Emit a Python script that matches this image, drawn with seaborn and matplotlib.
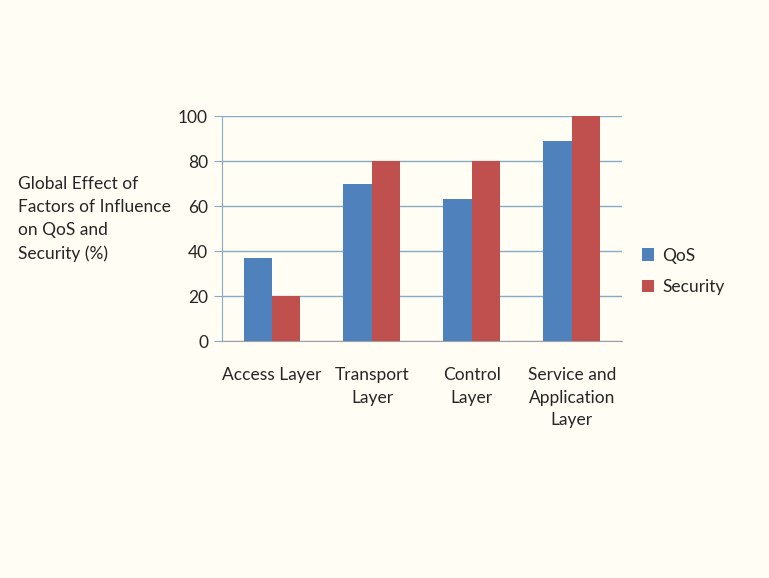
import seaborn as sns
import pandas as pd
import matplotlib.pyplot as plt

layers = ["Access Layer", "Transport\nLayer", "Control\nLayer", "Service and\nApplication\nLayer"]
qos = [37, 70, 63, 89]
security = [20, 80, 80, 100]

df = pd.DataFrame({
    "Layer": layers * 2,
    "Value": qos + security,
    "Series": ["QoS"] * 4 + ["Security"] * 4,
})

sns.set_style("white")
plt.rcParams['font.family'] = ['Lato', 'DejaVu Sans']

bg = "#fffdf4"
fig = plt.figure(figsize=(7.69, 5.78), dpi=100, facecolor=bg)
ax = fig.add_axes([0.2887, 0.41, 0.52, 0.389])
ax.set_facecolor(bg)

sns.barplot(data=df, x="Layer", y="Value", hue="Series",
            palette=["#4f81bd", "#c0504d"], width=0.57, gap=0,
            saturation=1, linewidth=0, ax=ax, zorder=3)

ax.set_ylim(0, 100)
ax.set_xlim(-0.5, 3.5)
ax.set_yticks([0, 20, 40, 60, 80, 100])
ax.yaxis.grid(True, color="#86abc4", linewidth=1, zorder=0)
ax.set_axisbelow(True)

for s in ["top", "right"]:
    ax.spines[s].set_visible(False)
ax.spines["left"].set_color("#86abc4")
ax.spines["bottom"].set_color("#a0a0a0")

ax.set_xticks([-0.5, 0.5, 1.5, 2.5, 3.5], minor=True)
ax.tick_params(axis="x", which="minor", length=5, color="#a0a0a0", direction="out")
ax.tick_params(axis="x", which="major", length=0, labelsize=12.5, pad=19)
ax.tick_params(axis="y", length=6, color="#86abc4", labelsize=12.5, pad=4, left=True)
for lbl in ax.get_xticklabels():
    lbl.set_linespacing(1.5)

ax.set_xlabel("")
ax.set_ylabel("")

fig.text(18 / 769, 1 - 176 / 578,
         "Global Effect of\nFactors of Influence\non QoS and\nSecurity (%)",
         ha="left", va="top", fontsize=12.5, linespacing=1.55)

leg = ax.legend(loc="center left", bbox_to_anchor=(1.01, 0.31), frameon=False,
                fontsize=12.5, handlelength=0.7, handleheight=0.7, labelspacing=0.9,
                handletextpad=0.5)

fig.savefig("out.png", dpi=100, facecolor=bg)
